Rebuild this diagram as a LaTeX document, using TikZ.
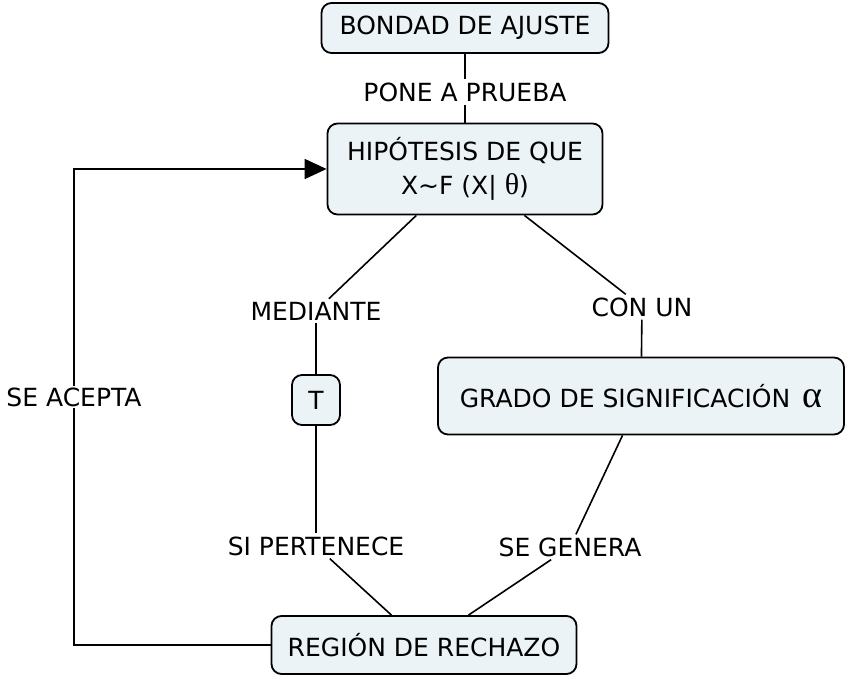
\documentclass[tikz,border=0pt]{standalone}
\usepackage{fontspec}
\setmainfont{DejaVu Sans}
\newfontfamily\greekfont{Liberation Serif}
\usetikzlibrary{arrows.meta}
\definecolor{conceptfill}{RGB}{236,243,246}

\begin{document}
\begin{tikzpicture}[x=1pt, y=1pt, font=\fontsize{25}{34}\selectfont]
\tikzstyle{concept} = [rectangle, draw, line width=1.8pt, fill=conceptfill, rounded corners=10pt, inner sep=0pt, align=center]
\tikzstyle{phrase} = [inner sep=3pt]
\tikzstyle{link} = [line width=1.6pt]
\useasboundingbox (0,0) rectangle (848,678);

\node [concept, minimum width=287pt, minimum height=50pt] (bondad) at (465,650) {BONDAD DE AJUSTE};
\node [phrase] (prueba) at (465,586) {PONE A PRUEBA};
\node [concept, minimum width=275pt, minimum height=91pt] (hipotesis) at (465,509) {HIPÓTESIS DE QUE\\X\textasciitilde F (X| {\greekfont\fontsize{30}{34}\selectfont θ})};
\node [phrase] (mediante) at (316,367) {MEDIANTE};
\node [concept, minimum width=48pt, minimum height=50pt] (t) at (316,278) {T};
\node [phrase] (pertenece) at (316,132) {SI PERTENECE};
\node [phrase] (conun) at (642,371) {CON UN};
\node [concept, minimum width=406pt, minimum height=77pt] (grado) at (641,282) {GRADO DE SIGNIFICACIÓN\hspace{12pt}{\greekfont\fontsize{38}{38}\selectfont α}};
\node [phrase] (genera) at (570,131) {SE GENERA};
\node [concept, minimum width=305pt, minimum height=58pt] (region) at (424,33) {REGIÓN DE RECHAZO};
\node [phrase, inner sep=1pt] (acepta) at (74,281) {SE ACEPTA};

\draw [link] (bondad) -- (prueba);
\draw [link] (prueba) -- (hipotesis);
\draw [link] (hipotesis) -- (mediante);
\draw [link] (mediante) -- (t);
\draw [link] (t) -- (pertenece);
\draw [link] (pertenece) -- (region);
\draw [link] (hipotesis) -- (conun);
\draw [link] (conun) -- (grado);
\draw [link] (grado) -- (genera);
\draw [link] (genera) -- (region);
\draw [link] (region.west) -| (acepta);
\draw [link, -{Triangle[length=22pt, width=20pt]}] (acepta) |- (hipotesis.west);

\end{tikzpicture}
\end{document}
